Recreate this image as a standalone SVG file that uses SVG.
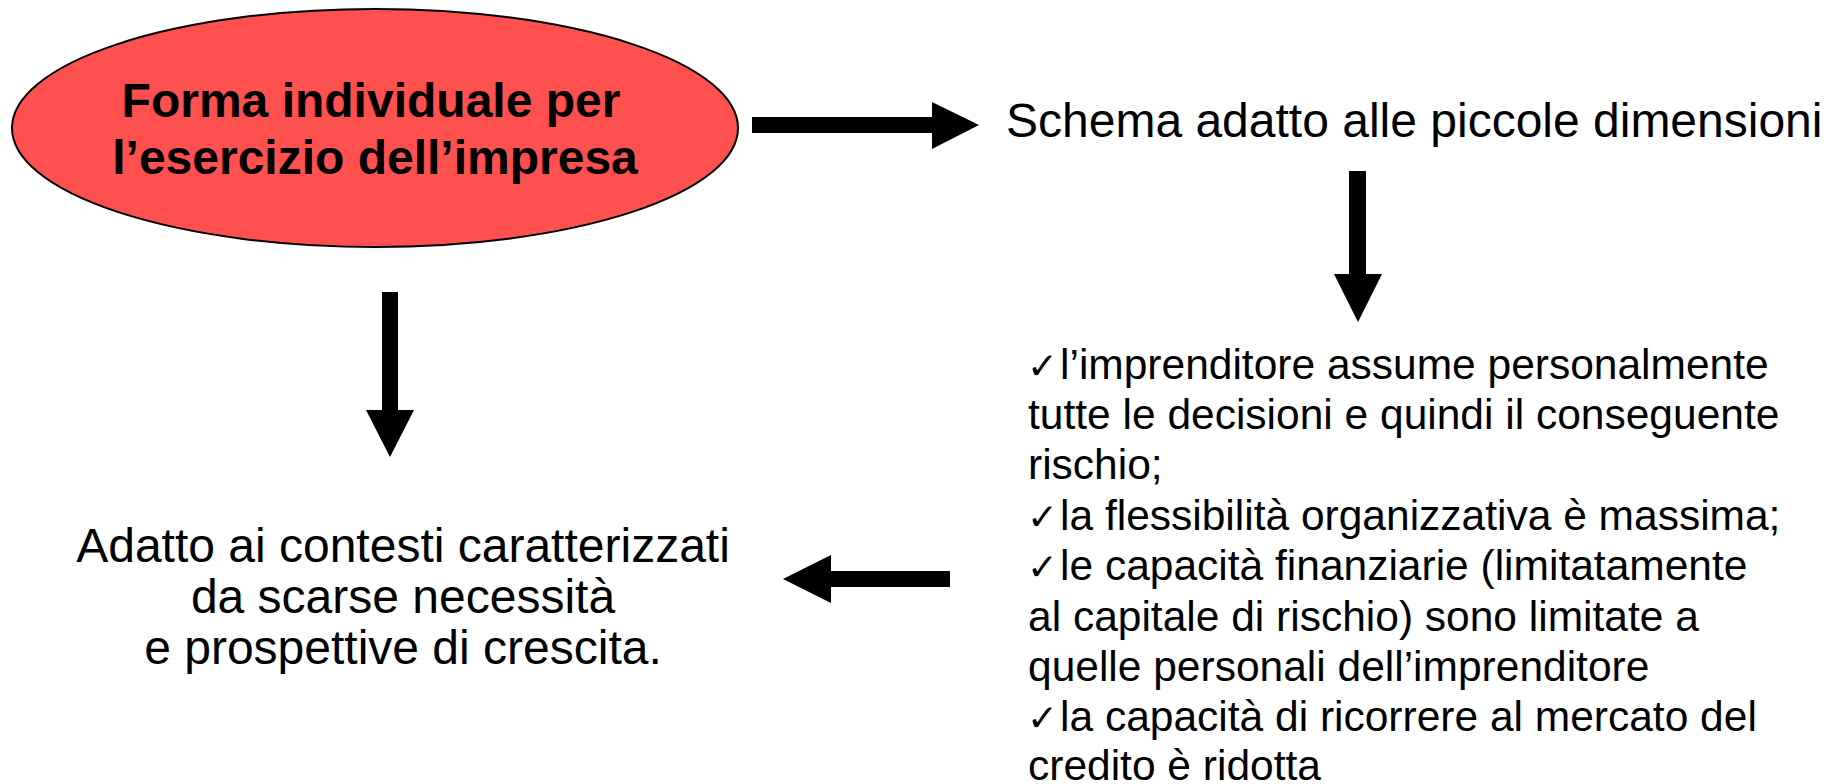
<svg xmlns="http://www.w3.org/2000/svg" width="1837" height="784" viewBox="0 0 1837 784">
<style>
.t{font-family:"Liberation Sans",Arial,sans-serif;font-size:48px;fill:#000}
.l{font-family:"Liberation Sans",Arial,sans-serif;font-size:42.5px;fill:#000}
.b{font-weight:bold}
.ck{font-family:"DejaVu Sans",sans-serif;font-size:37px}
.arr{fill:#000}
</style>
<rect width="1837" height="784" fill="#fff"/>
<g id="node-forma">
<ellipse cx="375" cy="128" rx="363" ry="119" fill="#FF5050" stroke="#000" stroke-width="2"/>
<text class="t b" x="371" y="117" text-anchor="middle">Forma individuale per</text>
<text class="t b" x="375" y="174" text-anchor="middle">l’esercizio dell’impresa</text>
</g>
<g id="node-schema">
<text class="t" x="1006" y="137">Schema adatto alle piccole dimensioni</text>
</g>
<g id="node-caratteristiche">
<text class="l" x="1027" y="379"><tspan class="ck">✓</tspan><tspan x="1060">l’imprenditore assume personalmente</tspan></text>
<text class="l" x="1028" y="429">tutte le decisioni e quindi il conseguente</text>
<text class="l" x="1028" y="479">rischio;</text>
<text class="l" x="1027" y="530"><tspan class="ck">✓</tspan><tspan x="1060">la flessibilità organizzativa è massima;</tspan></text>
<text class="l" x="1027" y="580"><tspan class="ck">✓</tspan><tspan x="1060">le capacità finanziarie (limitatamente</tspan></text>
<text class="l" x="1028" y="631">al capitale di rischio) sono limitate a</text>
<text class="l" x="1028" y="681">quelle personali dell’imprenditore</text>
<text class="l" x="1027" y="731"><tspan class="ck">✓</tspan><tspan x="1060">la capacità di ricorrere al mercato del</tspan></text>
<text class="l" x="1028" y="780">credito è ridotta</text>
</g>
<g id="node-adatto">
<text class="t" x="403" y="562" text-anchor="middle">Adatto ai contesti caratterizzati</text>
<text class="t" x="403" y="613" text-anchor="middle">da scarse necessità</text>
<text class="t" x="403" y="664" text-anchor="middle">e prospettive di crescita.</text>
</g>
<g id="connectors">
<polygon class="arr" points="752,117 932,117 932,102 979,125 932,149 932,133 752,133"/>
<polygon class="arr" points="1349,171 1366,171 1366,274 1382,274 1358,322 1334,274 1349,274"/>
<polygon class="arr" points="382,292 398,292 398,410 414,410 390,457 366,410 382,410"/>
<polygon class="arr" points="950,571 831,571 831,555 783,579 831,603 831,587 950,587"/>
</g>
</svg>
